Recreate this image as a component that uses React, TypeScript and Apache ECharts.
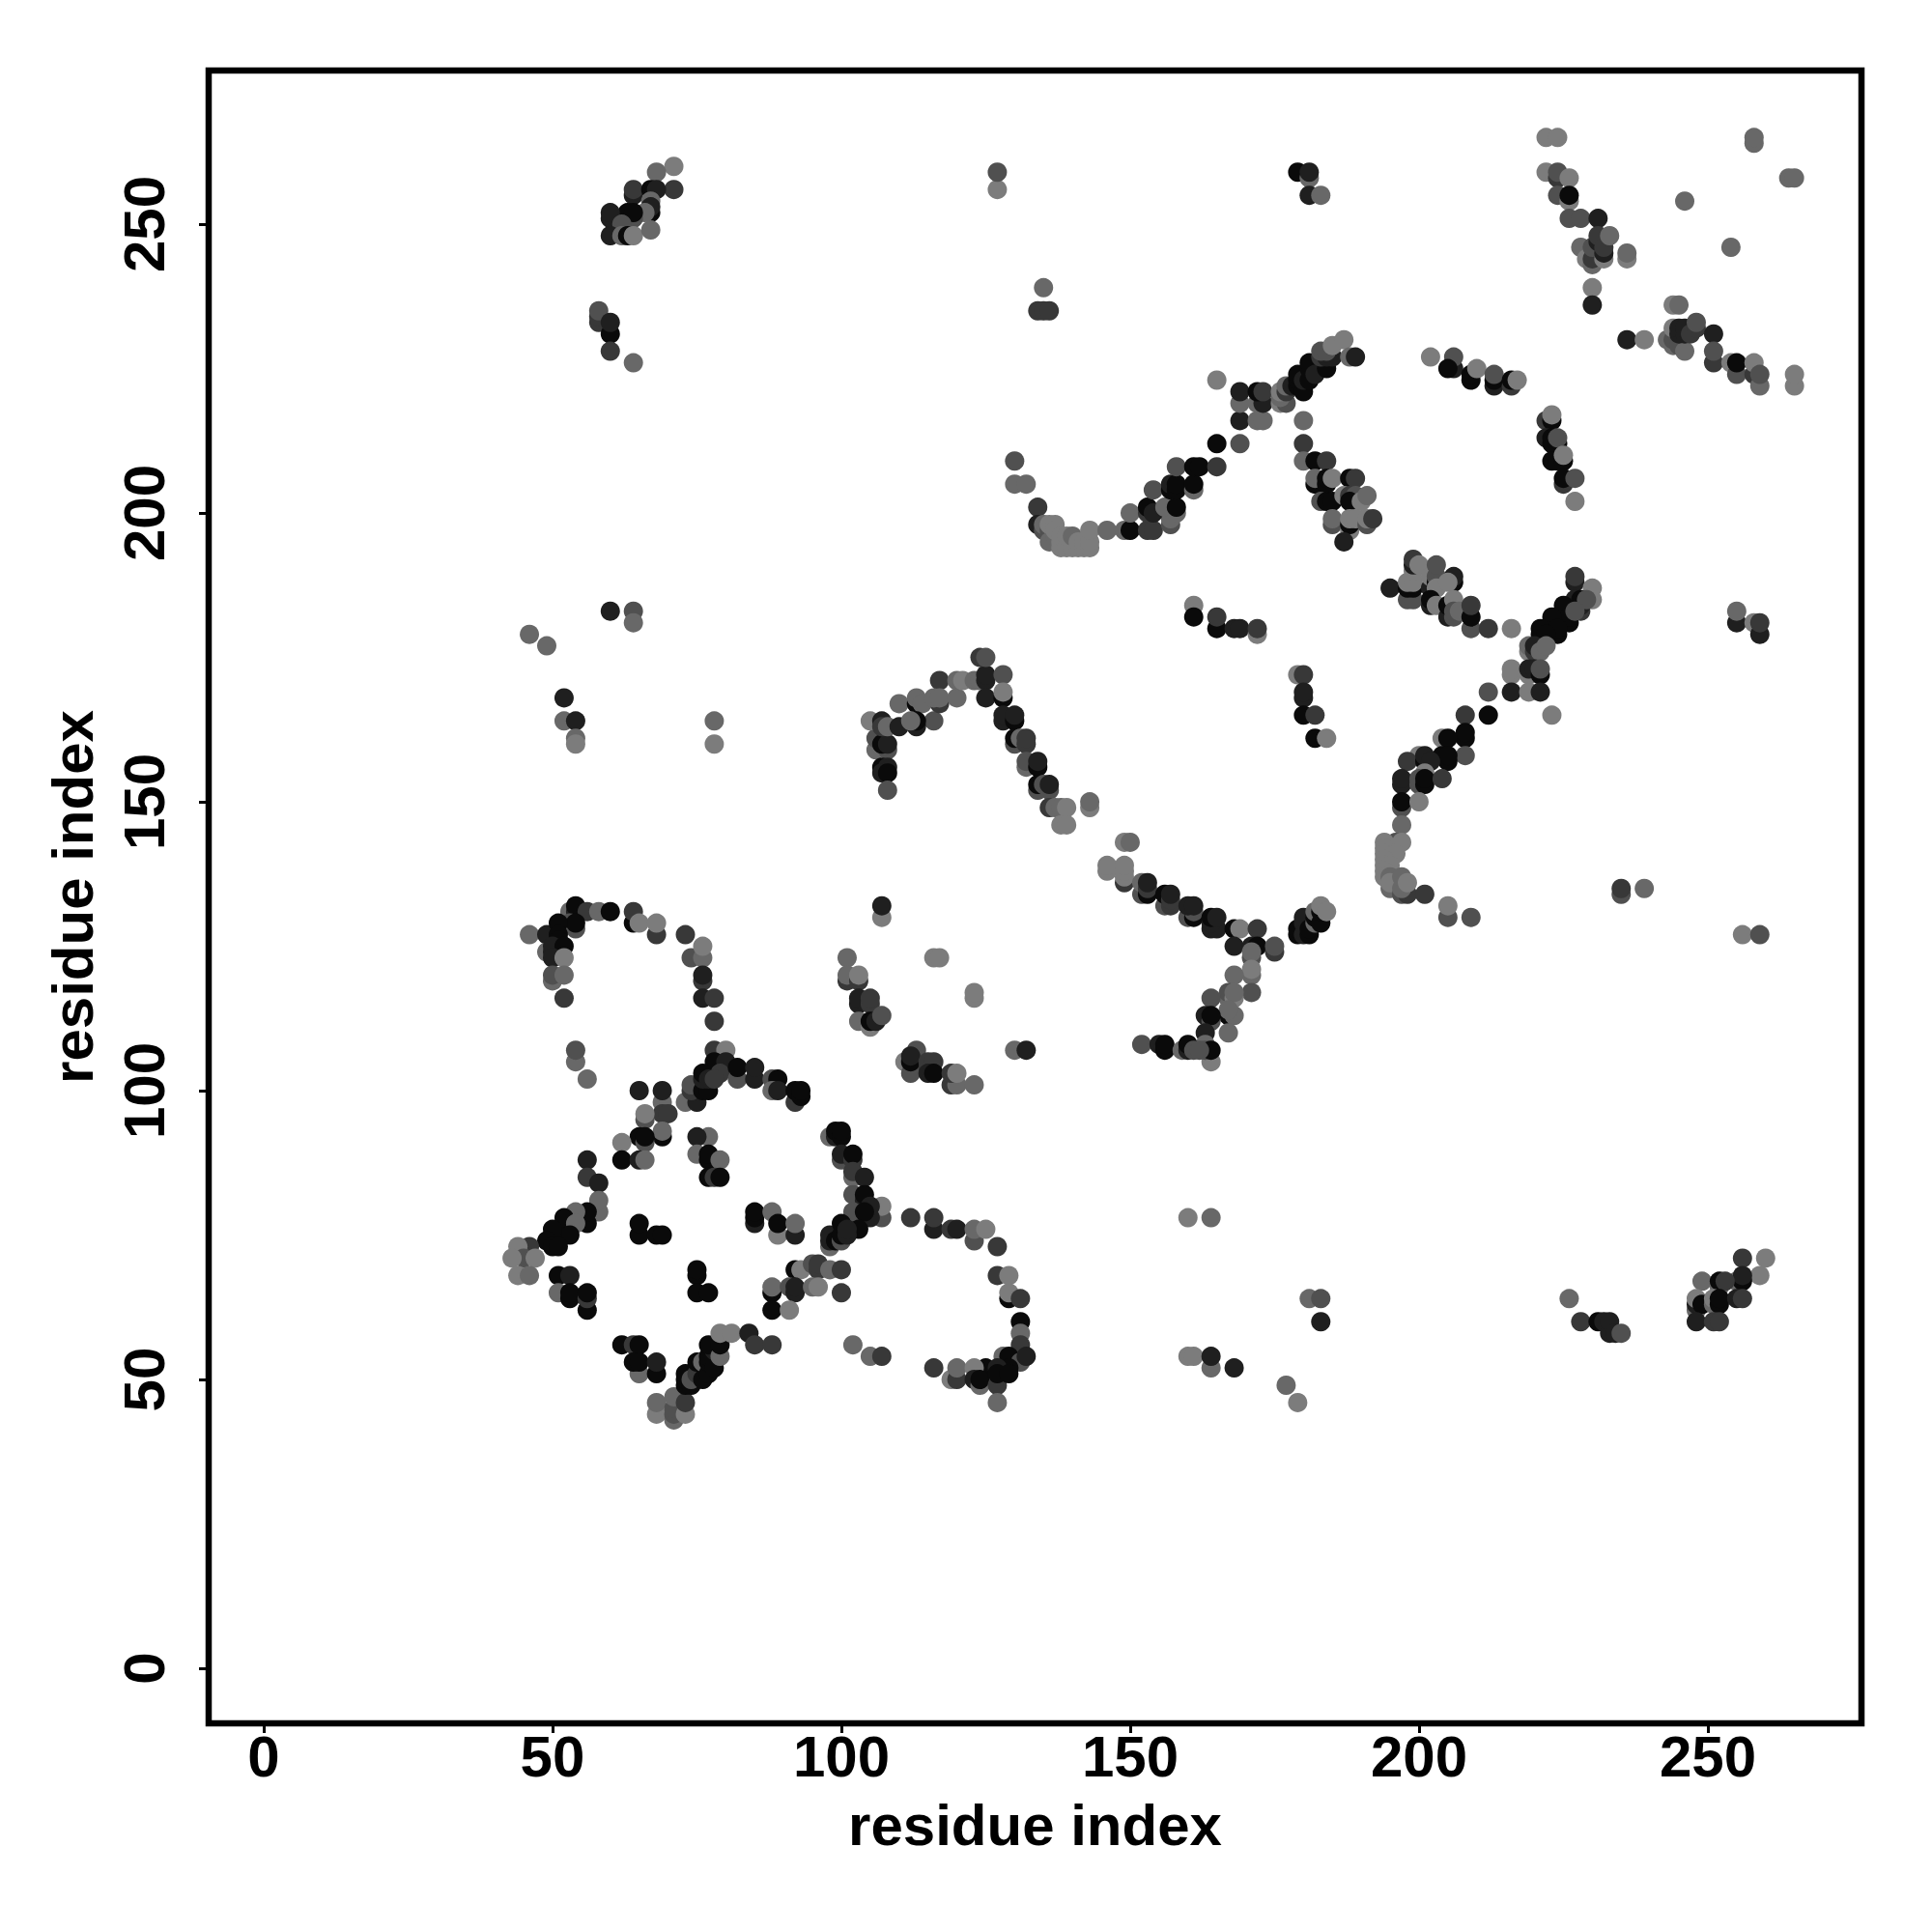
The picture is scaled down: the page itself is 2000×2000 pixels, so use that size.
import React, { useEffect, useRef } from "react";
import * as echarts from "echarts";

type P = [number, number, number];

const tickValues = [0, 50, 100, 150, 200, 250];
const axisTitle = "residue index";
const shadeColors = ["#0a0a0a", "#1f1f1f", "#383838", "#505050", "#686868", "#7c7c7c"];

const topLeft: P[] = [
  [71,260,5],[68,259,4],[71,256,2],[64,255,1],[64,256,2],[67,256,0],[68,256,1],[67,254,4],[67,252,0],[67,253,1],[66,252,4],
  [63,252,0],[64,251,3],[64,252,0],[60,251,1],[60,252,1],[62,250,3],[60,248,1],[62,248,4],[63,248,0],[64,248,5],[67,249,4],
  [58,233,2],[58,234,2],[58,235,3],[60,231,0],[60,233,1],[60,228,2],[64,226,4],
  [60,183,1],[64,183,3],[64,181,4],[46,179,4],[49,177,4],[52,168,1],[52,164,4],[54,164,1],[54,161,4],[54,160,5],[78,164,4],[78,160,5],
];

const upperLoop: P[] = [
  [106,159,4],[106,161,3],[108,159,3],[107,160,0],[108,160,1],[107,156,0],[108,156,1],[107,155,1],[108,155,0],[108,152,3],
  [105,164,5],[107,164,1],[107,163,2],[108,163,4],[110,163,1],[110,167,4],[113,167,0],[113,168,4],[114,167,4],
  [116,164,3],[113,163,1],[113,164,0],[112,164,4],[117,171,2],[117,167,2],[116,168,4],[117,168,4],[120,168,4],
  [120,171,4],[121,171,5],[123,171,4],[124,171,4],[125,171,1],[125,172,1],[128,172,3],[124,175,2],[125,175,3],[125,168,1],
  [128,168,0],[128,169,5],[128,164,1],[128,165,1],[130,164,0],[130,165,1],[130,160,3],[130,161,0],[131,161,4],[132,160,2],[132,161,2],
  [132,156,4],[132,157,3],[134,156,0],[134,157,1],[134,152,3],[134,153,0],[135,153,3],[136,152,3],[136,153,1],
  [136,149,2],[137,149,4],[138,149,4],[139,149,5],[138,146,5],[139,146,5],[143,149,5],[143,150,4],[149,143,5],[150,143,4],
  [146,138,5],[146,139,5],[149,136,2],[149,137,5],[149,138,5],[149,139,5],[152,134,3],[152,136,4],[153,134,0],[153,135,2],[153,136,1],
  [156,132,3],[157,132,2],[156,134,0],[157,133,2],[157,134,1],[160,130,3],[161,130,0],[161,131,3],[160,132,1],[161,132,1],
  [164,128,1],[165,128,1],[164,129,1],[164,130,0],[165,130,1],[168,128,0],[169,128,5],[172,128,2],
  [168,125,1],[171,125,1],[172,125,0],[175,124,2],[175,125,3],[171,123,3],[171,124,4],[171,120,4],[171,121,5],[168,120,4],
  [171,117,3],[167,116,4],[167,117,3],[168,116,5],[168,117,4],[164,116,3],[167,113,0],[168,113,4],[167,114,4],
  [163,113,1],[164,112,3],[164,113,0],[167,110,4],[163,110,1],[163,108,4],[164,105,5],[163,107,3],[164,107,0],
  [152,108,3],[155,108,1],[156,107,0],[156,108,0],[159,107,4],[160,107,1],[160,108,0],[161,107,3],[162,107,3],
  [161,184,5],[161,182,0],[165,180,0],[165,182,2],[168,180,1],[169,180,1],[172,179,5],[172,180,2],
  [179,172,5],[180,172,2],[180,168,1],[180,169,1],[180,165,0],[182,165,2],[182,161,0],[184,161,5],
  [179,127,0],[179,128,0],[180,127,1],[180,129,1],[180,130,1],[181,127,0],[181,128,0],[182,129,4],[182,130,0],[182,131,4],[183,129,0],[183,131,0],[183,132,5],[184,131,5],
];

const midLeft: P[] = [
  [107,130,5],[107,132,1],[101,123,4],[101,119,2],[101,120,4],[103,119,2],[103,120,5],[103,115,1],[103,116,1],[105,115,2],[105,116,2],
  [103,112,4],[105,111,5],[105,112,0],[106,112,1],[107,113,3],[116,123,5],[117,123,5],[123,116,5],[123,117,5],
  [113,107,3],[111,105,5],[112,103,3],[112,105,0],[112,106,1],[115,104,2],[115,105,2],[116,105,2],[115,103,1],[116,103,0],
  [119,101,2],[120,101,4],[119,103,2],[120,103,5],[123,101,4],[130,107,4],[132,107,1],
];

const leftArc: P[] = [
  [46,127,4],[49,127,1],[53,131,4],[54,131,1],[54,132,0],[56,131,2],[58,131,4],[60,131,0],[64,129,0],[64,131,2],[65,129,5],
  [68,127,2],[68,129,5],[73,127,2],[74,123,3],[76,123,4],[76,125,5],[76,119,2],[76,120,1],[76,116,1],[78,116,2],[78,112,2],
  [54,128,3],[53,129,3],[54,129,0],[51,129,0],[51,127,0],[51,126,0],[49,124,4],[50,124,1],[50,125,1],[52,125,0],[50,123,1],[52,123,5],
  [50,119,4],[50,120,3],[52,120,4],[52,116,2],[54,105,4],[54,107,3],[56,102,4],
];

const starUpper: P[] = [
  [65,100,1],[69,98,4],[69,100,1],[69,96,2],[70,96,2],[66,95,3],[66,96,5],[69,92,0],[69,93,4],[65,92,0],[66,91,3],[66,92,0],[62,91,5],
  [62,88,0],[65,88,1],[66,88,4],[56,88,1],[56,85,2],[58,84,1],[58,79,4],[58,81,4],
  [56,77,0],[56,79,0],[54,79,4],[52,77,0],[52,78,0],[54,77,4],[53,75,0],[50,75,0],[50,76,0],[49,74,0],[50,73,0],[51,73,0],
  [46,73,2],[44,73,5],[45,71,3],[43,71,5],[47,71,5],[44,68,5],[46,68,4],
  [65,75,0],[65,77,0],[68,75,0],[69,75,0],[77,92,4],[75,92,1],[75,89,4],[77,88,0],[77,89,0],[79,88,4],[77,85,0],[78,85,2],[79,85,0],
  [85,77,1],[85,78,0],[85,79,0],[88,79,4],[89,75,5],[89,77,0],[92,75,1],[92,77,4],
  [92,69,0],[93,69,5],[95,70,3],[96,69,2],[96,70,2],[98,69,4],[100,69,2],
  [88,65,0],[88,66,4],[91,66,3],[92,65,1],[92,66,1],[95,66,4],[96,66,5],[100,65,2],[88,62,0],[91,62,5],
];

const starArc: P[] = [
  [78,107,2],[80,107,5],[78,104,1],[78,105,0],[80,105,1],[79,103,2],[82,102,3],[82,104,0],[85,102,1],[85,104,1],[88,102,3],[89,102,0],
  [88,100,4],[89,100,1],[92,98,2],[92,100,0],[93,99,0],[93,100,0],[74,99,1],[73,98,4],[75,98,1],[74,100,2],[74,101,3],
  [76,100,0],[77,100,0],[76,102,1],[76,103,0],[77,102,1],[78,102,2],
  [98,92,4],[99,92,1],[99,93,0],[100,92,0],[100,93,0],[100,88,3],[100,89,1],[102,88,2],[102,89,0],
  [102,85,4],[102,86,2],[104,85,1],[102,82,3],[104,81,1],[104,82,0],[107,78,3],[107,80,5],[105,78,1],[105,80,1],
  [102,78,1],[102,79,3],[104,79,0],[103,76,0],[98,73,4],[98,74,1],[98,75,1],[99,74,0],[100,74,3],[100,75,0],[100,77,0],[101,75,1],[101,76,1],
];

const rightLoop: P[] = [
  [112,78,2],[116,76,1],[116,78,2],[119,76,2],[120,76,1],[123,74,3],[123,76,4],[125,76,5],[127,73,2],[127,68,2],[129,68,5],
  [129,64,0],[129,65,5],[131,64,2],[131,60,0],[131,58,4],[131,56,2],[128,54,4],[129,54,0],[131,53,3],[132,54,1],[129,52,0],[125,52,0],[127,52,1],
  [116,52,2],[119,50,5],[120,50,2],[120,52,4],[123,52,5],[123,50,1],[124,49,4],[124,50,0],[127,49,2],[127,51,0],[129,51,0],[127,46,4],
  [102,56,4],[105,54,4],[107,54,2],
];

const starLower: P[] = [
  [51,68,0],[53,68,1],[51,65,4],[53,64,0],[53,65,0],[56,62,0],[56,64,2],[56,65,0],
  [75,68,0],[75,69,0],[75,65,0],[77,65,0],[62,56,0],[64,56,2],[65,56,0],[65,51,4],[64,53,0],[65,53,0],[68,51,0],[68,53,1],
  [68,44,5],[68,46,4],[71,43,4],[71,44,3],[71,45,3],[71,47,4],[73,44,5],[73,46,2],
  [73,49,0],[73,50,0],[73,51,0],[74,49,0],[74,50,3],[75,51,2],[75,53,0],[76,50,0],[76,53,4],[77,51,0],[77,53,0],[77,54,0],[78,52,0],[78,55,1],[77,56,0],
  [79,54,4],[79,56,0],[79,58,5],[81,58,5],[84,58,1],[85,56,2],[88,56,2],
];

const upperArc: P[] = [
  [130,209,3],[130,205,4],[132,205,4],[134,201,2],[134,198,1],[135,197,3],[135,198,4],[136,197,3],[136,195,4],[136,198,5],[137,196,4],[137,198,5],[137,197,5],[138,194,5],[138,195,5],[138,196,5],[139,194,5],[139,196,5],[140,194,5],
  [140,196,4],[141,194,5],[141,195,5],[142,194,5],[142,195,5],[143,194,5],[143,195,5],[143,197,5],[146,197,4],[149,197,4],[150,197,0],[150,200,4],
  [153,197,2],[154,197,2],[157,198,3],[157,199,4],[153,200,2],[153,201,0],[154,200,1],[156,201,4],[158,200,4],[158,201,0],
  [154,204,3],[157,204,0],[157,205,1],[158,204,0],[158,205,0],[161,204,4],[161,205,0],[158,208,3],[161,208,0],[162,208,0],[165,208,2],
  [165,212,0],[169,212,3],[169,216,1],[172,216,4],[173,216,4],[169,219,4],[169,221,1],[172,219,4],[173,219,1],[172,221,0],[173,221,2],
  [165,223,5],[176,219,5],[177,219,3],[176,220,4],[176,221,5],[177,221,2],[177,222,4],[178,222,1],[179,222,0],[179,223,0],[179,224,0],
  [180,221,0],[180,223,1],[181,223,0],[181,225,0],[181,226,0],[182,224,1],[184,225,0],[183,227,2],[184,227,1],[185,227,1],[183,228,3],[184,228,3],
  [185,229,5],[187,230,5],[188,227,4],[189,227,1],
];

const innerCluster: P[] = [
  [180,216,4],[180,212,2],[180,209,4],[182,209,0],[184,209,2],[182,205,0],[182,206,4],[184,205,0],[184,206,0],[185,206,5],
  [183,202,3],[184,202,0],[185,202,0],[188,206,0],[189,206,2],[187,203,5],[188,203,2],[189,203,3],[188,202,0],[190,202,5],[191,203,4],
  [185,198,3],[185,199,4],[188,197,5],[188,198,0],[188,199,5],[189,199,5],[191,198,3],[191,199,5],[192,199,2],[187,195,1],
];

const topArc: P[] = [
  [202,227,5],[206,225,1],[206,227,3],[205,225,0],[209,223,0],[209,224,0],[210,225,5],[213,222,1],[213,223,0],[213,224,3],
  [216,222,2],[216,223,0],[217,223,5],[222,216,2],[223,216,0],[223,217,5],[222,213,1],[223,212,0],[223,213,0],[224,212,0],[224,213,3],
  [223,209,0],[224,209,0],[225,209,0],[225,210,5],[225,205,2],[225,206,0],[227,206,3],[227,202,5],
];

const rightCluster: P[] = [
  [195,187,1],[198,185,3],[199,185,3],[198,187,0],[199,187,0],[198,188,5],[199,188,5],[199,190,5],[199,191,1],[199,192,2],[200,191,5],
  [202,187,1],[202,189,5],[203,188,0],[203,189,3],[203,191,3],[203,187,5],[206,188,0],[206,189,1],[205,188,5],
  [202,184,1],[202,185,0],[203,184,5],[205,182,1],[206,182,3],[205,184,0],[206,184,0],[206,185,5],[206,183,3],[207,183,4],
  [209,180,3],[209,182,0],[209,184,2],[212,180,2],[216,180,5],
];

const risingArm: P[] = [
  [227,188,1],[227,189,2],[230,185,5],[230,187,5],[227,184,0],[228,183,2],[228,184,1],[227,185,1],[228,185,0],[229,185,3],
  [225,183,0],[225,184,0],[226,181,0],[226,182,0],[227,183,3],[223,181,0],[223,182,0],[224,179,0],[224,180,0],[221,179,0],[221,180,0],[222,179,0],
  [219,176,5],[219,177,4],[220,176,2],[220,177,1],[221,176,4],[222,177,4],
  [216,172,5],[216,173,5],[219,172,5],[219,173,1],[220,173,1],[221,172,0],[221,173,3],
  [212,169,3],[216,169,1],[219,169,5],[221,169,1],[223,165,5],[208,165,2],[212,165,0],
  [208,161,0],[208,162,0],[204,161,5],[205,161,0],[208,158,3],[204,158,0],[205,157,0],[205,158,0],[200,158,5],[198,157,2],[201,157,0],[201,158,1],[202,157,1],
  [201,155,5],[197,153,1],[197,154,1],[200,153,3],[200,154,3],[201,153,0],[201,154,0],[204,154,2],
  [197,149,3],[197,150,0],[200,150,5],[197,146,4],
];

const paleBlob: P[] = [
  [196,143,3],[194,143,5],[197,143,5],[194,142,5],[194,141,5],[196,141,5],[194,140,5],[194,139,5],[195,139,5],[194,138,5],[194,137,5],[195,137,4],
  [195,135,4],[195,136,5],[197,134,3],[198,134,2],[197,135,4],[197,137,4],[198,136,5],[201,134,2],
  [205,130,3],[205,132,5],[209,130,3],[235,134,3],[235,135,2],[239,135,4],
  [255,181,1],[255,183,4],[258,181,5],[259,179,1],[259,181,2],[256,127,5],[259,127,3],
];

const topRight: P[] = [
  [222,265,5],[224,265,5],[258,264,4],[258,265,4],[264,258,4],[265,258,4],[222,259,5],[224,258,2],[224,259,3],[226,258,5],
  [224,255,3],[226,254,5],[226,255,0],[226,251,3],[228,251,3],[231,251,1],[228,246,4],[229,244,5],[230,243,4],[230,244,2],[230,246,3],
  [231,247,1],[231,248,2],[232,244,5],[232,245,1],[232,246,2],[233,248,4],[236,244,5],[236,245,4],[230,239,5],[230,236,1],
  [246,254,4],[254,246,4],[236,230,1],[239,230,5],[244,236,5],[245,236,4],
];

const rightBand: P[] = [
  [243,230,4],[244,229,4],[244,230,3],[245,229,3],[246,228,4],[244,232,5],[245,231,1],[245,232,1],[246,231,1],[246,232,1],[247,231,2],[248,232,2],[248,233,3],
  [251,231,1],[251,226,2],[251,228,3],[254,226,5],[255,224,3],[255,226,0],[258,224,2],[258,226,5],[259,222,4],[259,224,3],[265,222,5],[265,224,5],
];

const sparseTop: P[] = [
  [127,256,5],[127,259,3],[135,239,4],[134,235,2],[135,235,2],[136,235,2],
  [179,259,0],[181,258,4],[181,259,1],[181,255,1],[183,255,4],
];

const lowerRight: P[] = [
  [226,64,4],[228,60,2],[231,60,0],[232,60,1],[233,58,1],[233,60,1],[234,58,1],[235,58,3],
  [260,71,5],[256,71,2],[259,68,5],[255,67,4],[256,67,0],[256,68,1],[249,67,4],[252,66,4],[252,67,0],[253,67,2],
  [248,62,4],[248,63,1],[248,64,5],[249,63,0],[251,63,4],[251,64,5],[252,63,0],[252,64,0],[255,64,1],[256,64,2],[248,60,1],[251,60,2],[252,60,2],
  [160,78,5],[164,78,4],[160,54,5],[161,54,5],[164,52,4],[164,54,1],[168,52,1],[177,49,4],[179,46,5],[181,64,4],[183,64,3],[183,60,1],
];

const clusters: P[][] = [
  topLeft, upperLoop, midLeft, leftArc, starUpper, starArc, rightLoop, starLower, upperArc, innerCluster,
  topArc, rightCluster, risingArm, paleBlob, topRight, rightBand, sparseTop, lowerRight,
];

const fontFamily = '"Liberation Sans", Arial, sans-serif';

function axis(nameGap: number, labelMargin: number, labelRotate: number) {
  return {
    type: "value",
    min: -9.53,
    max: 276.6,
    name: axisTitle,
    nameLocation: "middle",
    nameGap,
    nameTextStyle: { fontFamily, fontSize: 60, fontWeight: "bold", color: "#000" },
    splitLine: { show: false },
    axisLine: { show: false, onZero: false },
    axisTick: { show: true, length: 10, customValues: tickValues, lineStyle: { color: "#000", width: 3 } },
    axisLabel: {
      show: true,
      customValues: tickValues,
      margin: labelMargin,
      rotate: labelRotate,
      fontFamily,
      fontSize: 60,
      fontWeight: "bold",
      color: "#000",
      hideOverlap: false,
      showMinLabel: true,
      showMaxLabel: true,
    },
  };
}

export default function App() {
  const ref = useRef<HTMLDivElement>(null);
  useEffect(() => {
    if (!ref.current) return;
    const chart = echarts.init(ref.current, undefined, { renderer: "svg" });
    chart.setOption({
      animation: false,
      backgroundColor: "#fff",
      grid: { left: 216, top: 73, width: 1711, height: 1711, show: true, borderColor: "#000", borderWidth: 6.5, backgroundColor: "transparent" },
      xAxis: axis(75, 4, 0),
      yAxis: axis(111, 37, 90),
      series: clusters.map((c) => ({
        type: "scatter",
        symbol: "circle",
        symbolSize: 20,
        silent: true,
        data: c.map((p) => ({ value: [p[0], p[1]], itemStyle: { color: shadeColors[p[2]], opacity: 1 } })),
      })),
    });
    return () => chart.dispose();
  }, []);
  return <div ref={ref} style={{ position: "absolute", left: 0, top: 0, width: 2000, height: 2000 }} />;
}
